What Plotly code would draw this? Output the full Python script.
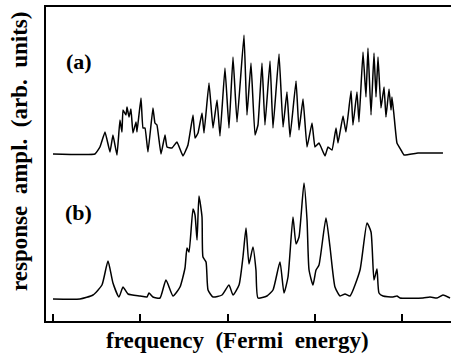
import plotly.graph_objects as go

# Frequency (tick spacing = 1 unit) and response amplitude (arb. units, relative to each trace's baseline)
freq_a = [0, 0.481, 0.538, 0.596, 0.653, 0.687, 0.733, 0.767, 0.790, 0.802, 0.836, 0.848, 0.871, 0.893,
          0.916, 0.951, 0.962, 1.008, 1.031, 1.054, 1.088, 1.145, 1.168, 1.191, 1.237, 1.283, 1.306, 1.363,
          1.420, 1.489, 1.546, 1.604, 1.627, 1.661, 1.707, 1.730, 1.787, 1.833, 1.879, 1.913, 1.970, 2.016,
          2.062, 2.108, 2.188, 2.222, 2.268, 2.314, 2.348, 2.394, 2.428, 2.486, 2.520, 2.589, 2.635, 2.680,
          2.715, 2.784, 2.818, 2.864, 2.910, 2.967, 3.001, 3.047, 3.116, 3.150, 3.196, 3.242, 3.265, 3.322,
          3.356, 3.414, 3.436, 3.482, 3.505, 3.551, 3.585, 3.608, 3.643, 3.677, 3.700, 3.723, 3.757, 3.792,
          3.814, 3.849, 3.872, 3.883, 3.906, 3.940, 3.986, 4.021, 4.181, 4.467]
amp_a = [0, 0, 7, 22, 2, 19, -1, 34, 22, 44, 39, 47, 37, 45,
         21, 32, 22, 56, 26, 26, 2, 46, 31, 29, 0, 19, 7, 6,
         12, -2, 9, 39, 16, 21, 41, 21, 71, 26, 54, 18, 86, 26,
         97, 32, 119, 39, 91, 19, 29, 91, 29, 93, 26, 100, 27, 62,
         17, 73, 24, 55, 7, 31, 7, 11, -2, 7, 4, 26, 11, 38,
         22, 63, 29, 62, 32, 102, 57, 106, 39, 101, 57, 97, 46, 67,
         37, 65, 44, 57, 39, 11, 4, -1, 1, 1]

freq_b = [0, 0.309, 0.458, 0.561, 0.630, 0.687, 0.756, 0.802, 0.859, 0.997, 1.077, 1.100, 1.145, 1.226,
          1.294, 1.375, 1.455, 1.512, 1.535, 1.558, 1.604, 1.627, 1.650, 1.672, 1.707, 1.718, 1.753, 1.776,
          1.833, 1.936, 2.016, 2.062, 2.131, 2.176, 2.211, 2.245, 2.291, 2.325, 2.348, 2.451, 2.520, 2.600,
          2.646, 2.692, 2.749, 2.784, 2.818, 2.875, 2.910, 2.933, 2.978, 3.013, 3.047, 3.127, 3.173, 3.230,
          3.288, 3.345, 3.402, 3.517, 3.597, 3.643, 3.677, 3.711, 3.734, 3.780, 3.895, 3.940, 3.975, 4.238,
          4.318, 4.399, 4.467, 4.548]
amp_b = [0, 0, 4, 14, 38, 16, 2, 12, 5, 3, 2, 6, 2, 1,
         19, 3, 12, 31, 51, 47, 90, 84, 59, 103, 82, 42, 37, 9,
         2, 4, 14, 4, 14, 42, 71, 35, 52, 29, 1, 3, 9, 37,
         6, 22, 82, 55, 62, 116, 79, 29, 14, 29, 34, 81, 52, 12,
         3, 5, 3, 29, 76, 67, 19, 30, 6, 3, 2, 3, 1, 1,
         2, 1, 4, 1]

offset_a = 167
offset_b = 22
tick_vals = [0, 1, 2, 3, 4]
panel_labels = ["(a)", "(b)"]

serif = "Liberation Serif"

fig = go.Figure()
fig.add_trace(go.Scatter(x=freq_a, y=[v + offset_a for v in amp_a], mode="lines",
                         line=dict(color="black", width=1.5, shape="spline", smoothing=0.3),
                         showlegend=False))
fig.add_trace(go.Scatter(x=freq_b, y=[v + offset_b for v in amp_b], mode="lines",
                         line=dict(color="black", width=1.5, shape="spline", smoothing=0.5),
                         showlegend=False))

fig.update_layout(
    width=451, height=355,
    margin=dict(l=46, r=0, t=7, b=34),
    paper_bgcolor="white", plot_bgcolor="white",
    xaxis=dict(range=[-0.080, 4.559], tickvals=tick_vals, showticklabels=False,
               ticks="inside", ticklen=7, tickwidth=1.5, tickcolor="black",
               showline=True, linecolor="black", linewidth=2, mirror=True,
               showgrid=False, zeroline=False),
    yaxis=dict(range=[0, 314], showticklabels=False, ticks="",
               showline=True, linecolor="black", linewidth=1.5,
               showgrid=False, zeroline=False),
    annotations=[
        dict(text=panel_labels[0], x=0.081, y=0.825, xref="paper", yref="paper", showarrow=False,
             xanchor="center", yanchor="middle",
             font=dict(family=serif, size=22, color="black", weight="bold")),
        dict(text=panel_labels[1], x=0.081, y=0.344, xref="paper", yref="paper", showarrow=False,
             xanchor="center", yanchor="middle",
             font=dict(family=serif, size=22, color="black", weight="bold")),
        dict(text="frequency  (Fermi  energy)", x=0.472, y=-0.015, xref="paper", yref="paper",
             showarrow=False, xanchor="center", yanchor="top",
             font=dict(family=serif, size=23, color="black", weight="bold")),
        dict(text="response  ampl.  (arb.  units)", x=-0.067, y=0.541, xref="paper", yref="paper",
             showarrow=False, textangle=-90, xanchor="center", yanchor="middle",
             font=dict(family=serif, size=23, color="black", weight="bold")),
    ],
)

fig.write_html("out.html")
